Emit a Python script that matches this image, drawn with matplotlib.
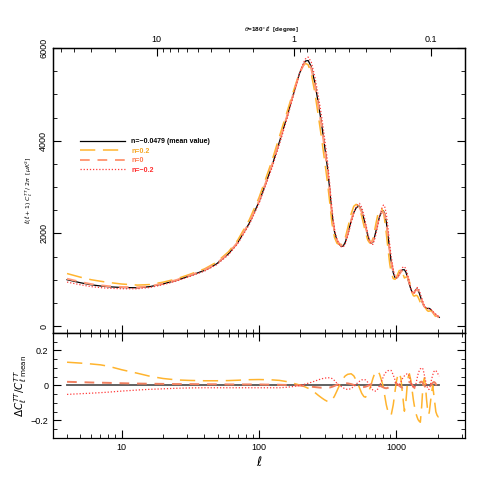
import matplotlib
matplotlib.use("Agg")
import matplotlib.pyplot as plt
import numpy as np
from matplotlib.ticker import FixedLocator, NullFormatter, MultipleLocator

plt.rcParams["font.family"] = ["Liberation Sans", "DejaVu Sans"]
plt.rcParams["mathtext.fontset"] = "dejavusans"

# multipole moments
ell = np.array([4, 5, 6, 7, 8, 10, 13, 16, 20, 25, 31, 40, 49, 60, 70, 85, 100, 112, 125, 141,
                160, 177, 197, 210, 218, 228, 240, 255, 270, 285, 300, 315, 326, 340, 355, 370,
                385, 397, 410, 425, 443, 469, 490, 510, 531, 539, 560, 580, 596, 620, 640, 656,
                675, 695, 712, 733, 755, 780, 805, 820, 845, 870, 895, 917, 950, 980, 1000, 1025,
                1052, 1080, 1110, 1145, 1175, 1200, 1223, 1245, 1275, 1300, 1330, 1349, 1370, 1390,
                1416, 1440, 1470, 1496, 1530, 1552, 1575, 1600, 1630, 1660, 1690, 1720, 1740, 1770,
                1800, 1841, 1880, 1920, 1940, 1980, 2020, 2055])

# l(l+1)C_l/2pi for the mean model (n=-0.0479), in muK^2
cl_mean = np.array([1000, 935, 890, 865, 848, 832, 826, 850, 910, 985, 1080, 1200, 1340, 1560, 1800,
                    2220, 2680, 3080, 3480, 3980, 4520, 4980, 5450, 5640, 5720, 5730, 5600, 5250,
                    4820, 4380, 3900, 3420, 3000, 2420, 2030, 1840, 1760, 1722, 1725, 1810, 1990,
                    2270, 2450, 2550, 2590, 2585, 2480, 2320, 2170, 1950, 1830, 1790, 1810, 1930,
                    2060, 2220, 2360, 2460, 2485, 2440, 2250, 1960, 1620, 1390, 1150, 1040, 1030,
                    1060, 1120, 1180, 1215, 1215, 1160, 1070, 980, 900, 800, 740, 715, 725, 760,
                    790, 800, 775, 710, 640, 550, 500, 455, 420, 395, 383, 380, 382, 380, 365, 340,
                    300, 268, 245, 235, 218, 200, 188])

# relative differences Delta C / C_mean (bottom panel)
dr_p02 = np.array([0.133, 0.128, 0.123, 0.118, 0.11, 0.09, 0.07, 0.053, 0.04, 0.032, 0.029, 0.027,
                   0.027, 0.028, 0.03, 0.033, 0.034, 0.033, 0.032, 0.029, 0.022, 0.013, 0.003,
                   -0.004, -0.009, -0.016, -0.026, -0.04, -0.056, -0.07, -0.082, -0.091, -0.093,
                   -0.085, -0.06, -0.03, 0.0, 0.02, 0.04, 0.055, 0.064, 0.067, 0.055, 0.03, 0.0,
                   -0.013, -0.045, -0.063, -0.067, -0.05, -0.02, 0.006, 0.04, 0.068, 0.08, 0.082,
                   0.065, 0.03, -0.01, -0.05, -0.11, -0.15, -0.168, -0.17, -0.11, -0.03, 0.02,
                   0.06, 0.072, 0.04, -0.05, -0.147, -0.09, 0.0, 0.05, 0.067, 0.03, -0.02, -0.08,
                   -0.11, -0.14, -0.16, -0.18, -0.195, -0.205, -0.21, -0.12, -0.04, 0.02, 0.044,
                   0.0, -0.08, -0.14, -0.166, -0.15, -0.1, -0.05, 0.0, -0.06, -0.12, -0.15, -0.17,
                   -0.18, -0.18])

dr_0 = np.array([0.021, 0.019, 0.017, 0.016, 0.015, 0.013, 0.011, 0.01, 0.009, 0.008, 0.008, 0.007,
                 0.007, 0.006, 0.006, 0.006, 0.006, 0.005, 0.005, 0.004, 0.003, 0.002, 0.0, -0.002,
                 -0.003, -0.005, -0.007, -0.009, -0.011, -0.013, -0.014, -0.013, -0.012, -0.008,
                 -0.002, 0.004, 0.009, 0.011, 0.013, 0.013, 0.012, 0.008, 0.003, -0.002, -0.007,
                 -0.008, -0.01, -0.009, -0.007, -0.002, 0.003, 0.007, 0.01, 0.01, 0.008, 0.005,
                 0.0, -0.006, -0.011, -0.014, -0.016, -0.013, -0.006, 0.003, 0.012, 0.015, 0.012,
                 0.006, -0.002, -0.009, -0.012, -0.008, 0.002, 0.012, 0.018, 0.02, 0.014, 0.005,
                 -0.006, -0.012, -0.018, -0.02, -0.015, -0.005, 0.01, 0.02, 0.022, 0.016, 0.008,
                 0.0, -0.01, -0.018, -0.022, -0.02, -0.014, -0.005, 0.005, 0.015, 0.02, 0.015,
                 0.008, -0.004, -0.012, -0.015])

dr_m02 = np.array([-0.051, -0.047, -0.044, -0.041, -0.038, -0.032, -0.026, -0.022, -0.019, -0.016,
                   -0.014, -0.013, -0.013, -0.013, -0.013, -0.013, -0.013, -0.013, -0.013, -0.013,
                   -0.01, -0.006, 0.0, 0.005, 0.008, 0.013, 0.018, 0.025, 0.032, 0.038, 0.042,
                   0.044, 0.044, 0.04, 0.028, 0.012, 0.0, -0.006, -0.013, -0.02, -0.023, -0.018,
                   -0.005, 0.008, 0.02, 0.024, 0.032, 0.034, 0.032, 0.018, 0.0, -0.014, -0.026,
                   -0.032, -0.032, -0.02, 0.0, 0.025, 0.05, 0.065, 0.078, 0.085, 0.086, 0.086,
                   0.06, 0.03, 0.01, 0.0, 0.005, 0.02, 0.04, 0.055, 0.063, 0.067, 0.067, 0.05,
                   0.02, 0.0, -0.01, -0.013, -0.005, 0.01, 0.04, 0.065, 0.085, 0.095, 0.1, 0.1,
                   0.085, 0.06, 0.03, 0.005, -0.015, -0.023, -0.02, 0.0, 0.03, 0.06, 0.08, 0.086,
                   0.086, 0.075, 0.063, 0.053])

labels = ["n=\u22120.0479 (mean value)", "n=0.2", "n=0", "n=\u22120.2"]
colors = ["black", "#ffb42e", "#ff9a78", "#ff3b3b"]
text_colors = ["black", "#f5a623", "#ff7a4d", "#ff2a2a"]

# the other models in the top panel, from the mean and the relative differences
cl_p02 = cl_mean * (1 + dr_p02)
cl_0 = cl_mean * (1 + dr_0)
cl_m02 = cl_mean * (1 + dr_m02)

fig = plt.figure(figsize=(4.91, 4.91), dpi=100)
ax1 = fig.add_axes([0.108, 0.3218, 0.839, 0.5804])
ax2 = fig.add_axes([0.108, 0.108, 0.839, 0.2138])

xlim = (10 ** 0.5, 10 ** 3.5)

l1, = ax1.plot(ell, cl_mean, color=colors[0], lw=0.9)
l2, = ax1.plot(ell, cl_p02, color=colors[1], lw=1.1, dashes=(10, 5))
l3, = ax1.plot(ell, cl_0, color=colors[2], lw=1.4, dashes=(5, 4))
l4, = ax1.plot(ell, cl_m02, color=colors[3], lw=0.9, dashes=(1, 1.5))

ax1.set_xscale("log")
ax1.set_xlim(*xlim)
ax1.set_ylim(-150, 6000)
ax1.set_yticks([0, 2000, 4000, 6000])
ax1.yaxis.set_minor_locator(MultipleLocator(500))
ax1.xaxis.set_major_formatter(NullFormatter())
ax1.xaxis.set_minor_formatter(NullFormatter())
ax1.tick_params(which="both", direction="in", top=False, right=True, labelsize=6.5)
ax1.tick_params(axis="y", labelrotation=90)
for t in ax1.get_yticklabels():
    t.set_va("center")
ax1.tick_params(which="major", length=6)
ax1.tick_params(which="minor", length=3)
ax1.set_ylabel(r"$\ell(\ell+1)\ C_\ell^{TT}/\ 2\pi\ \ [\mu K^2]$", fontsize=4.5, labelpad=3)

leg = ax1.legend([l1, l2, l3, l4], labels, loc="upper left", bbox_to_anchor=(0.05, 0.705),
                 frameon=False, fontsize=5, handlelength=6.5, labelspacing=0.35, handletextpad=0.9)
for txt, c in zip(leg.get_texts(), text_colors):
    txt.set_color(c)
    txt.set_fontweight("bold")

# top axis: angular scale theta = 180 deg / l
axt = ax1.twiny()
axt.set_xscale("log")
axt.set_xlim(*xlim)
theta_major = [10, 1, 0.1]
theta_minor = [50, 40, 30, 20, 9, 8, 7, 6, 5, 4, 3, 2, 0.9, 0.8, 0.7, 0.6, 0.5, 0.4, 0.3, 0.2]
axt.xaxis.set_major_locator(FixedLocator([180 / t for t in theta_major]))
axt.set_xticklabels(["10", "1", "0.1"])
axt.xaxis.set_minor_locator(FixedLocator([180 / t for t in theta_minor]))
axt.xaxis.set_minor_formatter(NullFormatter())
axt.tick_params(which="both", direction="in", labelsize=6.5, pad=3)
axt.tick_params(which="major", length=6)
axt.tick_params(which="minor", length=3)
fig.text(272 / 491, 1 - 29 / 491, r"$\theta$=180$\degree$/$\ell$  [degree]", fontsize=4.5,
         ha="center", va="center", fontweight="bold")

# bottom panel: relative differences
ax2.plot(ell, cl_mean / cl_mean - 1, color="#555555", lw=1.3)
ax2.plot(ell, dr_p02, color=colors[1], lw=1.1, dashes=(10, 5))
ax2.plot(ell, dr_0, color="#f08060", lw=1.4, dashes=(5, 4))
ax2.plot(ell, dr_m02, color=colors[3], lw=0.9, dashes=(1, 1.5))
ax2.set_xscale("log")
ax2.set_xlim(*xlim)
ax2.set_ylim(-0.3, 0.3)
ax2.set_yticks([-0.2, 0, 0.2])
ax2.set_yticklabels(["\u22120.2", "0", "0.2"])
ax2.yaxis.set_minor_locator(MultipleLocator(0.05))
ax2.set_xticks([10, 100, 1000])
ax2.set_xticklabels(["10", "100", "1000"])
ax2.xaxis.set_minor_formatter(NullFormatter())
ax2.tick_params(which="both", direction="in", top=True, right=True, labelsize=6.5)
ax2.tick_params(which="major", length=6)
ax2.tick_params(which="minor", length=3)
ax2.set_ylabel(r"$\Delta C_\ell^{TT}/C_{\ell\ \mathrm{mean}}^{TT}$", fontsize=7.5, labelpad=1)
ax2.set_xlabel(r"$\ell$", fontsize=9, labelpad=2)

for a in (ax1, ax2, axt):
    for s in a.spines.values():
        s.set_linewidth(0.9)

fig.savefig("out.png", dpi=100)
print("saved")
